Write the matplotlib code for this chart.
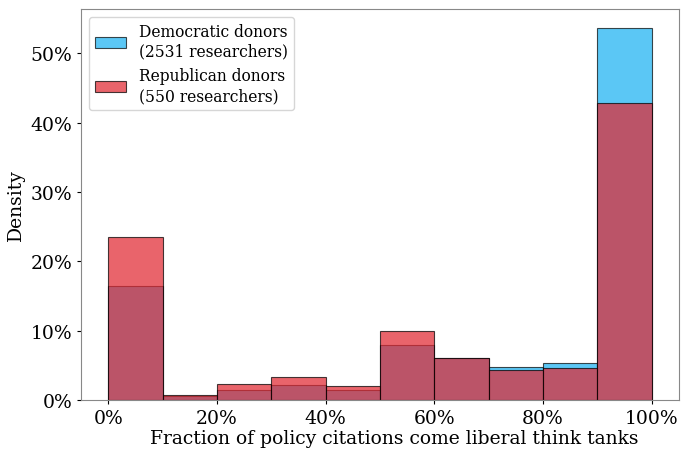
import numpy as np
import matplotlib
matplotlib.use("Agg")
import matplotlib.pyplot as plt
from matplotlib.ticker import PercentFormatter

# share of researchers per 10% bin of liberal think-tank citations
bin_left = np.arange(0.0, 1.0, 0.1)
dem_share = [0.164, 0.005, 0.0144, 0.0212, 0.0140, 0.0793, 0.0600, 0.0476, 0.0539, 0.537]
rep_share = [0.235, 0.0068, 0.0236, 0.0331, 0.0202, 0.0994, 0.0600, 0.0432, 0.0457, 0.4285]

dem_label = "Democratic donors\n(2531 researchers)"
rep_label = "Republican donors\n(550 researchers)"

plt.rcParams["font.family"] = ["DejaVu Serif"]

fig = plt.figure(figsize=(6.81, 4.52), dpi=100)
ax = fig.add_axes([0.119, 0.113, 0.878, 0.865])

ax.bar(bin_left, dem_share, width=0.1, align="edge",
       color=(21 / 255, 176 / 255, 241 / 255), alpha=0.7,
       edgecolor="black", linewidth=0.8, label=dem_label)
ax.bar(bin_left, rep_share, width=0.1, align="edge",
       color=(225 / 255, 40 / 255, 50 / 255), alpha=0.72,
       edgecolor="black", linewidth=0.8, label=rep_label)

ax.xaxis.set_major_formatter(PercentFormatter(1.0, decimals=0))
ax.yaxis.set_major_formatter(PercentFormatter(1.0, decimals=0))
ax.set_xticks(np.arange(0, 1.01, 0.2))
ax.set_yticks(np.arange(0, 0.51, 0.1))
ax.tick_params(labelsize=13.5, length=3)

ax.set_xlabel("Fraction of policy citations come liberal think tanks", fontsize=13.5)
ax.xaxis.set_label_coords(0.523, -0.075)
ax.set_ylabel("Density", fontsize=13.5)

for s in ax.spines.values():
    s.set_color("#888888")

ax.legend(loc="upper left", fontsize=11.2)

fig.savefig("out.png", dpi=100)
